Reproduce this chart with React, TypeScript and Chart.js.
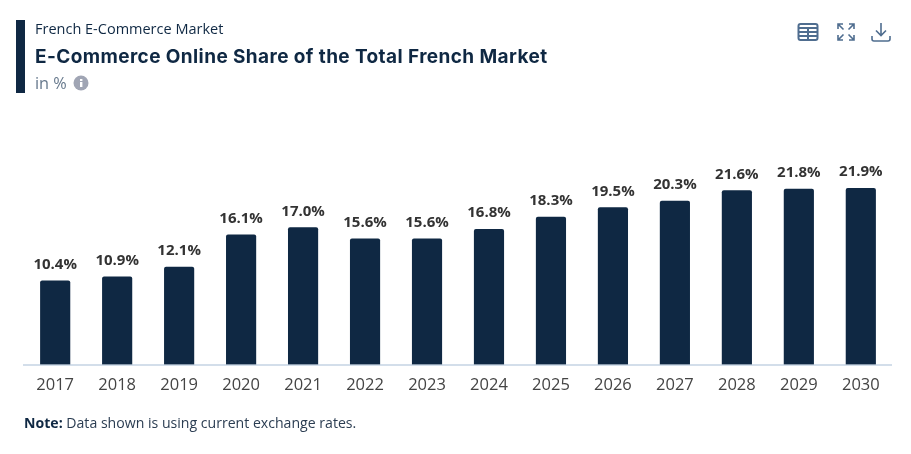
import React, { useEffect, useRef } from "react";
import { Chart, registerables } from "chart.js";

Chart.register(...registerables);

const categories = ["2017","2018","2019","2020","2021","2022","2023","2024","2025","2026","2027","2028","2029","2030"];
const shares = [10.4,10.9,12.1,16.1,17.0,15.6,15.6,16.8,18.3,19.5,20.3,21.6,21.8,21.9];

const navy = "#0f2843";
const iconBlue = "#4f6d8f";

const valueLabels = {
  id: "valueLabels",
  afterDatasetsDraw(chart: any) {
    const { ctx } = chart;
    const meta = chart.getDatasetMeta(0);
    ctx.save();
    ctx.font = "700 15px 'Open Sans'";
    ctx.fillStyle = "#333333";
    ctx.textAlign = "center";
    ctx.textBaseline = "alphabetic";
    meta.data.forEach((bar: any, i: number) => {
      ctx.fillText(shares[i].toFixed(1) + "%", bar.x, bar.y - 12);
    });
    ctx.restore();
  },
};

export default function App() {
  const ref = useRef<HTMLCanvasElement>(null);
  useEffect(() => {
    document.body.style.margin = "0";
    const chart = new Chart(ref.current!, {
      type: "bar",
      data: {
        labels: categories,
        datasets: [{
          data: shares,
          backgroundColor: navy,
          barThickness: 29.5,
          borderRadius: 2,
          borderSkipped: "bottom",
        }],
      },
      options: {
        animation: false,
        responsive: false,
        devicePixelRatio: 1,
        layout: { padding: { left: 24.2, right: 19.2, top: 123, bottom: 49.5 } },
        plugins: { legend: { display: false }, tooltip: { enabled: false } },
        scales: {
          y: { display: false, min: 0, max: 30 },
          x: {
            grid: { display: false },
            border: { color: "#d3deea", width: 2 },
            afterFit(scale: any) { scale.height = 40; },
            ticks: { color: "#444444", font: { family: "'Open Sans'", size: 16.5 }, padding: 3, maxRotation: 0 },
          },
        },
      },
      plugins: [valueLabels],
    });
    return () => chart.destroy();
  }, []);

  const text: React.CSSProperties = { position: "absolute", whiteSpace: "nowrap", fontFamily: "'Open Sans'" };
  return (
    <div style={{ position: "relative", width: 911, height: 454, overflow: "hidden", background: "#fff" }}>
      <canvas ref={ref} width={911} height={454} style={{ position: "absolute", left: 0, top: 0 }} />
      <div style={{ position: "absolute", left: 16, top: 20, width: 9, height: 73, background: navy }} />
      <div style={{ ...text, left: 35, top: 19, fontSize: 14.5, lineHeight: "20px", color: navy }}>French E-Commerce Market</div>
      <div style={{ ...text, left: 35, top: 44, fontFamily: "Inter", fontWeight: 700, fontSize: 19, letterSpacing: 0.4, lineHeight: "26px", color: navy }}>E-Commerce Online Share of the Total French Market</div>
      <div style={{ ...text, left: 35, top: 72, fontSize: 16.3, lineHeight: "22px", color: "#66788c" }}>in %</div>
      <svg style={{ position: "absolute", left: 73, top: 75 }} width="16" height="16" viewBox="0 0 16 16">
        <circle cx="8" cy="8" r="7.5" fill="#a0a5b4" />
        <rect x="7" y="7" width="2.4" height="5" fill="#fff" />
        <rect x="7" y="4" width="2.4" height="2" fill="#fff" />
      </svg>
      <svg style={{ position: "absolute", left: 797, top: 22 }} width="22" height="20" viewBox="0 0 22 20" fill="none" stroke={iconBlue} strokeWidth="2">
        <rect x="1.5" y="2" width="19" height="16" rx="2" />
        <path d="M1.5 6H20.5M1.5 10H20.5M1.5 14H20.5M11 6V18" />
      </svg>
      <svg style={{ position: "absolute", left: 836, top: 22 }} width="20" height="20" viewBox="0 0 20 20" fill="none" stroke={iconBlue} strokeWidth="1.6">
        <path d="M2 7V2H7M2 2L7.5 7.5M13 2H18V7M18 2L12.5 7.5M2 13V18H7M2 18L7.5 12.5M18 13V18H13M18 18L12.5 12.5" />
      </svg>
      <svg style={{ position: "absolute", left: 870, top: 21 }} width="22" height="22" viewBox="0 0 22 22" fill="none" stroke={iconBlue} strokeWidth="1.6">
        <path d="M11 2V14M6 9.5L11 14.5L16 9.5M2 15V18Q2 20 4 20H18Q20 20 20 18V15" />
      </svg>
      <div style={{ ...text, left: 24, top: 413, fontSize: 14.1, lineHeight: "20px", color: "#2b3d52" }}>
        <b style={{ color: navy }}>Note:</b> Data shown is using current exchange rates.
      </div>
    </div>
  );
}
